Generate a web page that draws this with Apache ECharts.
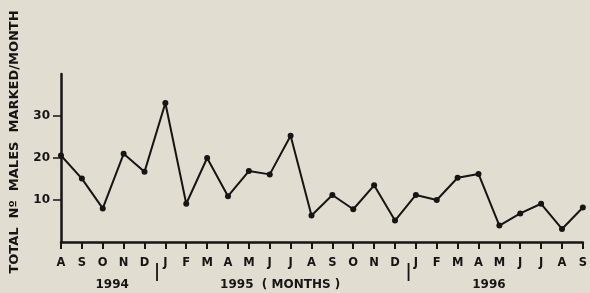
<!DOCTYPE html>
<html>
<head>
<meta charset="utf-8">
<script src="https://cdn.jsdelivr.net/npm/echarts@6/dist/echarts.min.js"></script>
<style>
  html, body { margin: 0; padding: 0; background: #e1ddd1; }
  #chart { width: 590px; height: 293px; }
</style>
</head>
<body>
<div id="chart"></div>
<script>
// Aug 1994 .. Sep 1996
const months = ['A','S','O','N','D','J','F','M','A','M','J','J','A','S','O','N','D','J','F','M','A','M','J','J','A','S'];
const males = [20.6, 15.1, 8.0, 21.0, 16.7, 33.1, 9.1, 20.0, 10.9, 16.9, 16.1, 25.3, 6.3, 11.2, 7.8, 13.5, 5.1, 11.2, 10.0, 15.3, 16.2, 3.9, 6.8, 9.1, 3.1, 8.2];
const yTicks = [10, 20, 30];

// year captions: position given as (fractional) category index
const yearLabels = [
    { text: '1994', at: 2.45 },
    { text: '1995  ( MONTHS )', at: 10.5 },
    { text: '1996', at: 20.5 }
];
const yearBreaks = [4.6, 16.65];
const yTitle = 'TOTAL  Nº  MALES  MARKED/MONTH';

const FONT = '"DejaVu Sans", sans-serif';
const INK = '#151515';

const myChart = echarts.init(document.getElementById('chart'));

option = {
    backgroundColor: '#e1ddd1',
    animation: false,
    grid: { left: 61, right: 5, top: 74, bottom: 51 },
    xAxis: {
        type: 'category',
        data: months,
        boundaryGap: false,
        axisLine: { lineStyle: { color: INK, width: 2.5 } },
        axisTick: { show: true, interval: 0, length: 7, lineStyle: { color: INK, width: 2 } },
        axisLabel: { color: INK, fontFamily: FONT, fontWeight: 'bold', fontSize: 11.5, margin: 15, interval: 0 }
    },
    yAxis: {
        type: 'value',
        min: 0,
        max: 40,
        interval: 10,
        splitLine: { show: false },
        axisLine: { show: true, lineStyle: { color: INK, width: 2.5 } },
        axisTick: { show: true, length: 8, customValues: yTicks, lineStyle: { color: INK, width: 1.5 } },
        axisLabel: {
            color: INK, fontFamily: FONT, fontWeight: 'bold', fontSize: 12, margin: 11,
            customValues: yTicks
        }
    },
    series: [{
        type: 'line',
        data: males,
        symbol: 'circle',
        symbolSize: 6,
        itemStyle: { color: INK },
        lineStyle: { color: INK, width: 2 }
    }]
};

myChart.setOption(option);

// year captions, separators and the rotated axis title
function idxToX(i) {
    const x0 = myChart.convertToPixel({ xAxisIndex: 0 }, 0);
    const x1 = myChart.convertToPixel({ xAxisIndex: 0 }, 1);
    return x0 + (x1 - x0) * i;
}

const graphics = [{
    type: 'text',
    x: 15,
    y: 142,
    rotation: Math.PI / 2,
    style: {
        text: yTitle, fill: INK, font: 'bold 13px ' + FONT,
        textAlign: 'center', textVerticalAlign: 'middle'
    }
}];
yearLabels.forEach(function (y) {
    graphics.push({
        type: 'text',
        x: idxToX(y.at),
        y: 285,
        style: {
            text: y.text, fill: INK, font: 'bold 12px ' + FONT,
            textAlign: 'center', textVerticalAlign: 'middle'
        }
    });
});
yearBreaks.forEach(function (b) {
    graphics.push({
        type: 'line',
        shape: { x1: idxToX(b), y1: 263, x2: idxToX(b), y2: 281 },
        style: { stroke: INK, lineWidth: 1.8 }
    });
});
myChart.setOption({ graphic: graphics });
</script>
</body>
</html>
